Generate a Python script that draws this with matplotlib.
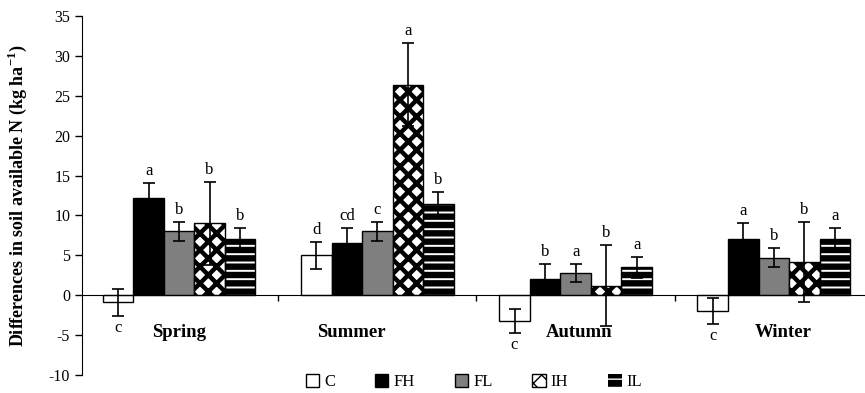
import matplotlib
matplotlib.use('Agg')
import matplotlib.pyplot as plt
from matplotlib.patches import Patch
import numpy as np

plt.rcParams['font.family'] = ['Liberation Serif', 'DejaVu Serif']
plt.rcParams['mathtext.fontset'] = 'custom'
plt.rcParams['mathtext.rm'] = 'Liberation Serif'
plt.rcParams['mathtext.bf'] = 'Liberation Serif:bold'
plt.rcParams['axes.unicode_minus'] = False

seasons = ['Spring', 'Summer', 'Autumn', 'Winter']
treatments = ['C', 'FH', 'FL', 'IH', 'IL']

# values per treatment, one per season
C_vals = [-0.9, 5.0, -3.2, -2.0]
FH_vals = [12.2, 6.5, 2.0, 7.1]
FL_vals = [8.0, 8.0, 2.8, 4.7]
IH_vals = [9.0, 26.4, 1.2, 4.2]
IL_vals = [7.1, 11.4, 3.5, 7.0]

C_err = [1.7, 1.7, 1.5, 1.6]
FH_err = [1.9, 1.9, 1.9, 1.9]
FL_err = [1.2, 1.2, 1.1, 1.2]
IH_err = [5.2, 5.2, 5.1, 5.0]
IL_err = [1.3, 1.5, 1.3, 1.4]

C_let = ['c', 'd', 'c', 'c']
FH_let = ['a', 'cd', 'b', 'a']
FL_let = ['b', 'c', 'a', 'b']
IH_let = ['b', 'a', 'b', 'b']
IL_let = ['b', 'b', 'a', 'a']

values = [C_vals, FH_vals, FL_vals, IH_vals, IL_vals]
errors = [C_err, FH_err, FL_err, IH_err, IL_err]
letters = [C_let, FH_let, FL_let, IH_let, IL_let]

fig = plt.figure(figsize=(8.65, 3.93), dpi=100)
ax = fig.add_axes([0.0948, 0.0458, 0.9052, 0.9135])

x = np.arange(len(seasons))
w = 0.154

def hatched_bar(pos, vals, face, hatch_col, hatch, hlw):
    bars = ax.bar(pos, vals, w, color=face, edgecolor=hatch_col, linewidth=0,
                  hatch=hatch, zorder=2)
    for b in bars:
        if hasattr(b, 'set_hatch_linewidth'):
            b.set_hatch_linewidth(hlw)
    ax.bar(pos, vals, w, fill=False, edgecolor='black', linewidth=1, zorder=3)
    return bars

for i, t in enumerate(treatments):
    pos = x + (i - 2) * w
    if t == 'C':
        ax.bar(pos, values[i], w, color='white', edgecolor='black', linewidth=1, zorder=2)
    elif t == 'FH':
        ax.bar(pos, values[i], w, color='black', edgecolor='black', linewidth=1, zorder=2)
    elif t == 'FL':
        ax.bar(pos, values[i], w, color='#7f7f7f', edgecolor='black', linewidth=1, zorder=2)
    elif t == 'IH':
        hatched_bar(pos, values[i], 'white', 'black', 'xx', 3.2)
    else:
        hatched_bar(pos, values[i], 'black', 'white', '--', 1.4)
    ax.errorbar(pos, values[i], yerr=errors[i], fmt='none', ecolor='black',
                elinewidth=1.2, capsize=4, capthick=1.2, zorder=4)
    for p, v, e, lab in zip(pos, values[i], errors[i], letters[i]):
        if v >= 0:
            ax.annotate(lab, (p, v + e), xytext=(0, 3), textcoords='offset points',
                        ha='center', va='bottom', fontsize=12)
        else:
            ax.annotate(lab, (p, v - e), xytext=(0, -3), textcoords='offset points',
                        ha='center', va='top', fontsize=12)

label_shift = [0, -0.13, 0.02, 0.05]
for xi, s, sh in zip(x, seasons, label_shift):
    ax.text(xi + sh, -4.7, s, ha='center', va='center', fontsize=13.5, fontweight='bold')

ax.set_xlim(-0.49, 3.46)
ax.set_ylim(-10, 35)
ax.set_yticks(np.arange(-10, 36, 5))
ax.tick_params(axis='y', labelsize=11.5, direction='out', length=5, width=1)
ax.set_xticks(x[:-1] + 0.5)
ax.set_xticklabels([])
ax.tick_params(axis='x', direction='out', length=4, width=1)
ax.spines['bottom'].set_position(('data', 0))
ax.spines['top'].set_visible(False)
ax.spines['right'].set_visible(False)
ax.set_ylabel('Differences in soil available N (kg ha$^{\\mathbf{-1}}$)', fontsize=13,
              fontweight='bold', labelpad=14)

handles = [
    Patch(facecolor='white', edgecolor='black', linewidth=1),
    Patch(facecolor='black', edgecolor='black', linewidth=1),
    Patch(facecolor='#7f7f7f', edgecolor='black', linewidth=1),
    Patch(facecolor='white', edgecolor='black', linewidth=1, hatch='xx'),
    Patch(facecolor='black', edgecolor='white', linewidth=0, hatch='--'),
]
ax.legend(handles, treatments, loc='center', bbox_to_anchor=(0.548, 0.028),
          bbox_transform=fig.transFigure, ncol=5, frameon=False, fontsize=12,
          handlelength=0.8, handleheight=0.8, handletextpad=0.3, columnspacing=2.4)

fig.savefig('out.png', dpi=100)
